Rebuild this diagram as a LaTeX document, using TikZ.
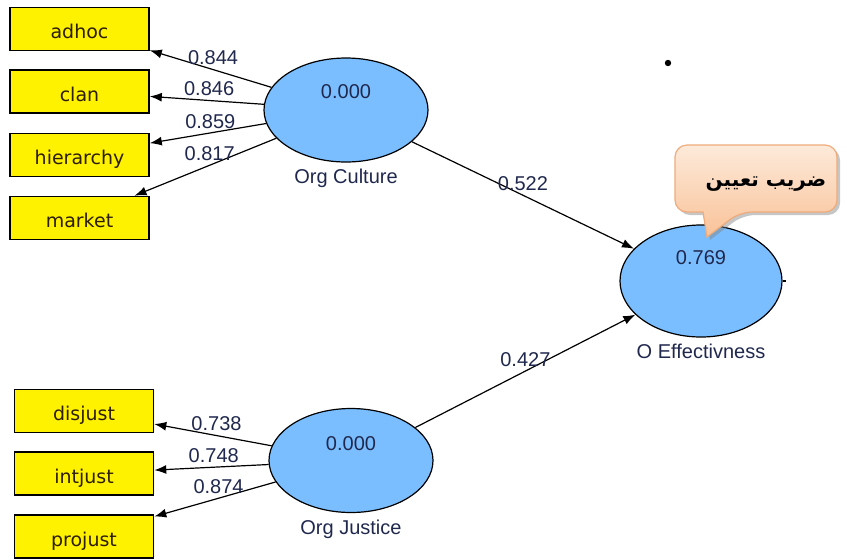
\documentclass[tikz,border=0pt]{standalone}
\usepackage{fontspec}
\setmainfont{Liberation Sans}
\newfontfamily\boxfont{DejaVu Sans}
\newfontfamily\arabicfont[Script=Arabic]{DejaVu Sans}
\TeXXeTstate=1
\usetikzlibrary{arrows.meta,shapes.geometric,shadows,positioning}
\definecolor{latblue}{RGB}{122,190,255}
\definecolor{numcol}{RGB}{32,40,78}
\definecolor{boxtext}{RGB}{45,30,0}
\definecolor{calltop}{RGB}{253,234,218}
\definecolor{callbot}{RGB}{249,194,152}
\definecolor{callline}{RGB}{238,172,124}
\begin{document}
\begin{tikzpicture}[x=0.5pt,y=-0.5pt,
    ind/.style={draw,line width=0.8pt,fill=yellow,minimum width=69.5pt,minimum height=21.5pt,
      inner sep=0pt,text height=9.5pt,text depth=0pt,text=boxtext,font=\boxfont\fontsize{9.5}{11}\selectfont},
    lat/.style={draw,line width=0.6pt,fill=latblue,ellipse,minimum width=82pt,minimum height=52pt,inner sep=0pt},
    num/.style={text=numcol,inner sep=1pt,font=\fontsize{10}{12}\selectfont},
    wt/.style={num,above,inner sep=2pt},
    bubble/.style={draw=callline,line width=0.6pt,top color=calltop,bottom color=callbot,
      drop shadow={opacity=0.45,shadow xshift=1.5pt,shadow yshift=-1.5pt}}]
  \useasboundingbox (0,0) rectangle (847,559);
  \draw
    (79.5,29) node[ind] (adhoc){adhoc}
    (79.5,91.5) node[ind] (clan){clan}
    (79.5,155) node[ind] (hier){hierarchy}
    (79.5,218) node[ind] (market){market}
    (84,411) node[ind] (disjust){disjust}
    (84,473.5) node[ind] (intjust){intjust}
    (84,536.5) node[ind] (projust){projust}
    (346,110) node[lat] (culture){}
    (351,460.5) node[lat] (justice){}
    (701,281) node[lat,minimum width=81pt,minimum height=56pt] (effect){};
  \node[num] (cultureval) at ([yshift=9pt]culture.center) {0.000};
  \node[num] (justiceval) at ([yshift=8.5pt]justice.center) {0.000};
  \node[num] (effectval) at ([yshift=11.5pt]effect.center) {0.769};
  \node[num,below=2pt of culture] (culturename) {Org Culture};
  \node[num,below=2pt of justice] (justicename) {Org Justice};
  \node[num,below=2pt of effect] (effectname) {O Effectivness};
  \begin{scope}[-{Latex[length=6pt,width=4.5pt]},line width=0.6pt]
    \draw (culture) to node[wt,pos=0.48] (w1){0.844} (adhoc);
    \draw (culture) to node[wt,pos=0.48] (w2){0.846} (clan);
    \draw (culture) to node[wt,pos=0.48] (w3){0.859} (hier);
    \draw (culture) to node[wt,pos=0.47] (w4){0.817} (market);
    \draw (justice) to node[wt,pos=0.47] (w5){0.738} (disjust);
    \draw (justice) to node[wt,pos=0.48] (w6){0.748} (intjust);
    \draw (justice) to node[wt,pos=0.47] (w7){0.874} (projust);
    \draw (culture) to node[wt,pos=0.5] (w8){0.522} (effect);
    \draw (justice) to node[wt,pos=0.5] (w9){0.427} (effect);
  \end{scope}
  \draw[line width=0.6pt] (effect.east) -- ++(3,0);
  \fill (668,63) circle (1.6pt);
  % callout
  \path[bubble] (703,212) [rounded corners=6pt] -- (675,212) -- (675,145) -- (837,145)
    -- (837,212) -- (740,212) [sharp corners] -- (707,237) -- cycle;
  \node[font=\arabicfont\bfseries\fontsize{10}{12}\selectfont,inner sep=0pt] (rsq) at (766,184)
    {\beginR ضريب تعيين\endR};
\end{tikzpicture}
\end{document}
